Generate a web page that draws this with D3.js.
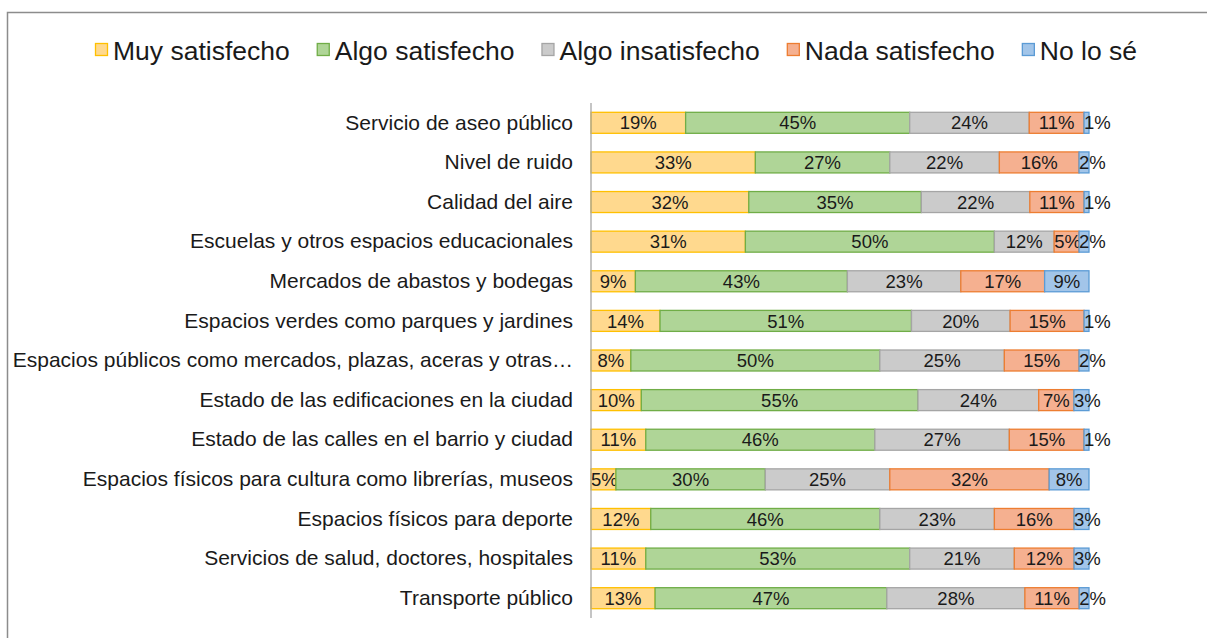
<!DOCTYPE html>
<html>
<head>
<meta charset="utf-8">
<script src="https://cdn.jsdelivr.net/npm/d3@7"></script>
<style>
  html, body { margin: 0; padding: 0; background: #fff; }
  svg { display: block; font-family: "Liberation Sans", Arial, sans-serif; }
</style>
</head>
<body>
<svg id="chart" width="1207" height="638"></svg>
<script>
// Satisfaction survey: share of answers per public service (percent)
const categories = [
  "Servicio de aseo público",
  "Nivel de ruido",
  "Calidad del aire",
  "Escuelas y otros espacios educacionales",
  "Mercados de abastos y bodegas",
  "Espacios verdes como parques y jardines",
  "Espacios públicos como mercados, plazas, aceras y otras…",
  "Estado de las edificaciones en la ciudad",
  "Estado de las calles en el barrio y ciudad",
  "Espacios físicos para cultura como librerías, museos",
  "Espacios físicos para deporte",
  "Servicios de salud, doctores, hospitales",
  "Transporte público"
];
const seriesNames = ["Muy satisfecho", "Algo satisfecho", "Algo insatisfecho", "Nada satisfecho", "No lo sé"];

const muySatisfecho    = [19, 33, 32, 31,  9, 14,  8, 10, 11,  5, 12, 11, 13];
const algoSatisfecho   = [45, 27, 35, 50, 43, 51, 50, 55, 46, 30, 46, 53, 47];
const algoInsatisfecho = [24, 22, 22, 12, 23, 20, 25, 24, 27, 25, 23, 21, 28];
const nadaSatisfecho   = [11, 16, 11,  5, 17, 15, 15,  7, 15, 32, 16, 12, 11];
const noLoSe           = [ 1,  2,  1,  2,  9,  1,  2,  3,  1,  8,  3,  3,  2];

const fills   = ["#FFD98E", "#AFD597", "#CBCBCB", "#F5B090", "#A2C5E9"];
const strokes = ["#FFC000", "#70AD47", "#A5A5A5", "#ED7D31", "#5B9BD5"];

const seriesValues = [muySatisfecho, algoSatisfecho, algoInsatisfecho, nadaSatisfecho, noLoSe];
const rows = categories.map((c, i) => {
  const r = { category: c };
  seriesNames.forEach((s, k) => { r[s] = seriesValues[k][i]; });
  return r;
});

const svg = d3.select("#chart");

// outer chart frame
svg.append("rect")
  .attr("x", 7.5).attr("y", 12.5)
  .attr("width", 1260).attr("height", 700)
  .attr("fill", "none").attr("stroke", "#8c8c8c").attr("stroke-width", 1.5);

const x = d3.scaleLinear().domain([0, 1]).range([591, 1089]);
const y = d3.scaleBand().domain(categories).range([103, 618]).paddingInner(0.47).paddingOuter(0.235);

const stack = d3.stack().keys(seriesNames).offset(d3.stackOffsetExpand);
const layers = stack(rows);

const g = svg.append("g");
const layerG = g.selectAll("g.layer")
  .data(layers)
  .join("g")
  .attr("class", "layer");

layerG.selectAll("rect")
  .data((d, k) => d.map(v => ({ v, k })))
  .join("rect")
  .attr("x", d => x(d.v[0]))
  .attr("y", d => y(d.v.data.category))
  .attr("width", d => x(d.v[1]) - x(d.v[0]))
  .attr("height", y.bandwidth())
  .attr("fill", d => fills[d.k])
  .attr("stroke", d => strokes[d.k])
  .attr("stroke-width", 1.3);

// value labels
layerG.selectAll("text")
  .data((d, k) => d.map(v => ({ v, k, key: d.key })))
  .join("text")
  .attr("y", d => y(d.v.data.category) + y.bandwidth() / 2)
  .attr("dy", "0.36em")
  .attr("text-anchor", "middle")
  .attr("font-size", 18.5)
  .attr("fill", "#1a1a1a")
  .text(d => d.v.data[d.key] + "%")
  .attr("x", function (d) {
    const x0 = x(d.v[0]), x1 = x(d.v[1]);
    const w = this.getComputedTextLength();
    return Math.max((x0 + x1) / 2, x0 + w / 2);
  });

// vertical category axis
const yAxis = d3.axisLeft(y).tickSize(0).tickPadding(18);
const axisG = svg.append("g").attr("transform", "translate(591,0)").call(yAxis);
axisG.select(".domain").attr("stroke", "#a6a6a6").attr("stroke-width", 1.3)
  .attr("d", "M0," + y.range()[0] + "V" + y.range()[1]);
axisG.selectAll(".tick text")
  .attr("font-size", 21)
  .attr("font-family", "Liberation Sans, Arial, sans-serif")
  .attr("fill", "#1a1a1a");

// legend
const legend = svg.append("g").attr("transform", "translate(0,50)");
let lx = 95;
seriesNames.forEach((name, k) => {
  const item = legend.append("g").attr("transform", `translate(${lx},0)`);
  item.append("rect")
    .attr("x", 0.5).attr("y", -6.5).attr("width", 12).attr("height", 12)
    .attr("fill", fills[k]).attr("stroke", strokes[k]).attr("stroke-width", 1.3);
  const t = item.append("text")
    .attr("x", 18).attr("dy", "0.36em")
    .attr("font-size", 26.5)
    .attr("fill", "#1a1a1a")
    .text(name);
  lx += 18 + t.node().getComputedTextLength() + 27;
});
</script>
</body>
</html>
